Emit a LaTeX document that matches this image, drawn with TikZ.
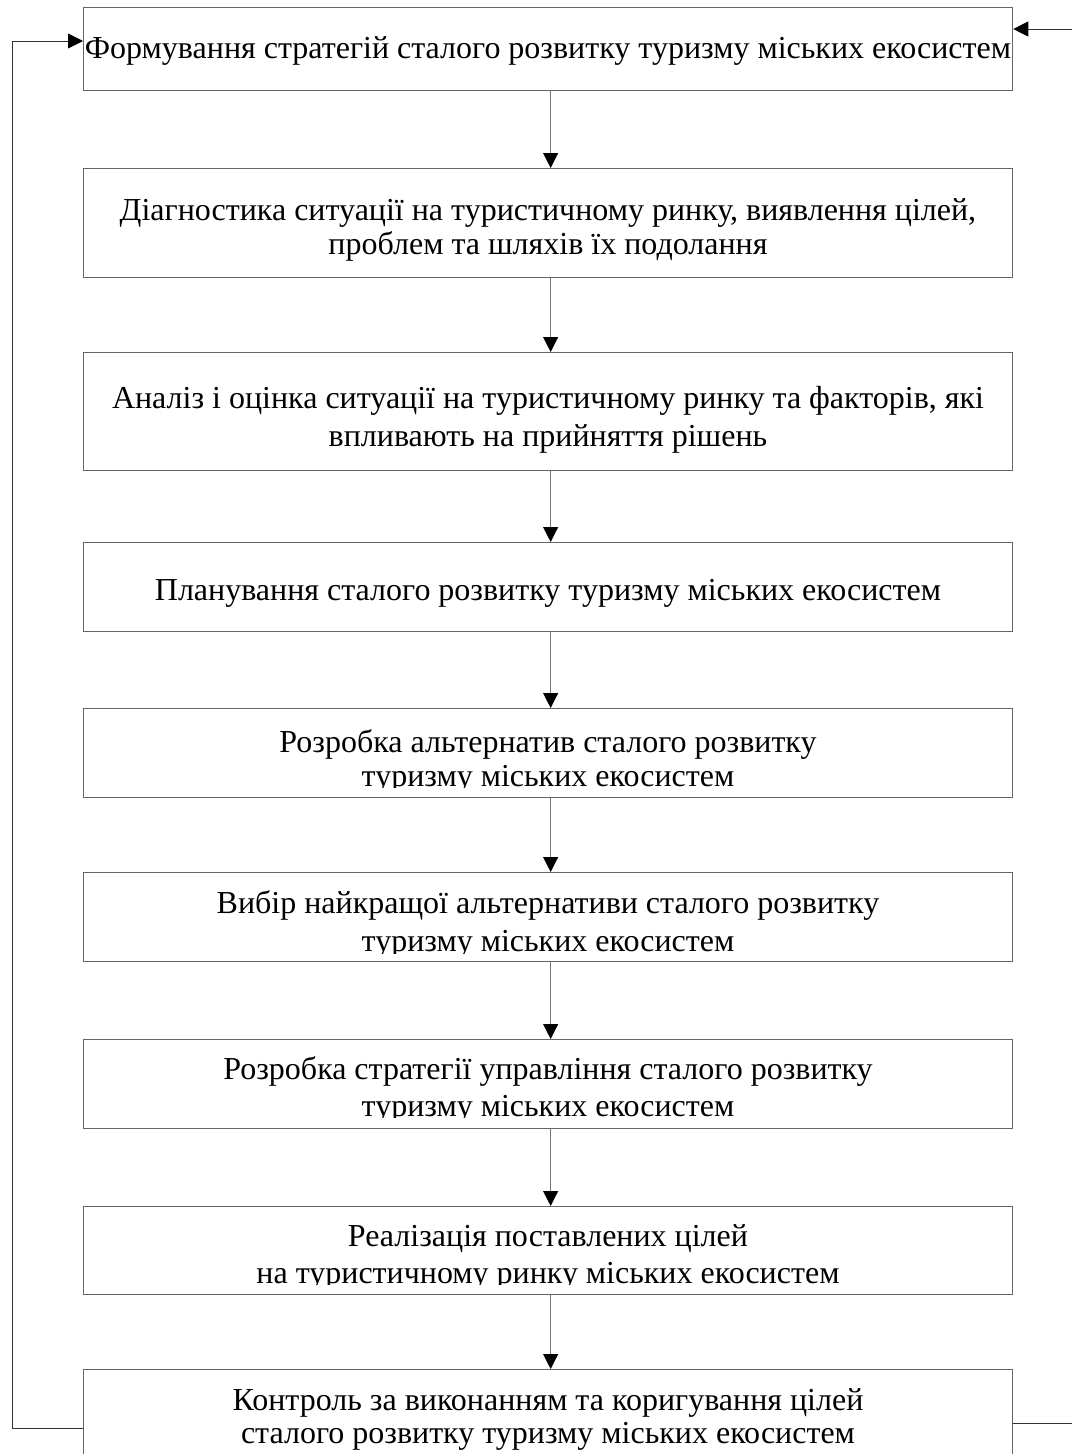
\documentclass[tikz,border=0pt]{standalone}
\usepackage{fontspec}
\setmainfont{Liberation Serif}
\usetikzlibrary{arrows.meta}
\begin{document}
\begin{tikzpicture}[x=1pt,y=-1pt,
  box/.style={draw=black!60, line width=1.3pt, minimum width=929pt, inner sep=0pt, anchor=north west, rectangle},
  txt/.style={font=\fontsize{32}{36}\selectfont, anchor=base, inner sep=0pt},
  flow/.style={draw=black!55, line width=0.9pt, -{Triangle[width=15pt,length=15pt,color=black]}},
  fb/.style={draw=black!80, line width=0.9pt},
  fbarrow/.style={draw=black!80, line width=0.9pt, -{Triangle[width=15pt,length=15pt,color=black]}}]
\useasboundingbox (0,0) rectangle (1072,1454);
\clip (0,0) rectangle (1072,1454);

% boxes
\node[box, minimum height=83pt]  (b1) at (83,7) {};
\node[box, minimum height=109pt] (b2) at (83,168) {};
\node[box, minimum height=118pt] (b3) at (83,352) {};
\node[box, minimum height=89pt]  (b4) at (83,542) {};
\node[box, minimum height=89pt]  (b5) at (83,708) {};
\node[box, minimum height=89pt]  (b6) at (83,872) {};
\node[box, minimum height=89pt]  (b7) at (83,1039) {};
\node[box, minimum height=88pt]  (b8) at (83,1206) {};
\node[box, minimum height=131pt] (b9) at (83,1369) {};

% texts
\node[txt] (t1) at (548,58) {Формування стратегій сталого розвитку туризму міських екосистем};
\node[txt] (t2a) at (548,220) {Діагностика ситуації на туристичному ринку, виявлення цілей,};
\node[txt] (t2b) at (548,254) {проблем та шляхів їх подолання};
\node[txt] (t3a) at (548,408) {Аналіз і оцінка ситуації на туристичному ринку та факторів, які};
\node[txt] (t3b) at (548,446) {впливають на прийняття рішень};
\node[txt] (t4) at (548,600) {Планування сталого розвитку туризму міських екосистем};
\begin{scope}
  \clip (83,708) rectangle (1012,787);
  \node[txt] (t5a) at (548,752) {Розробка альтернатив сталого розвитку};
  \node[txt] (t5b) at (548,786) {туризму міських екосистем};
\end{scope}
\begin{scope}
  \clip (83,872) rectangle (1012,953);
  \node[txt] (t6a) at (548,913) {Вибір найкращої альтернативи сталого розвитку};
  \node[txt] (t6b) at (548,951) {туризму міських екосистем};
\end{scope}
\begin{scope}
  \clip (83,1039) rectangle (1012,1117);
  \node[txt] (t7a) at (548,1079) {Розробка стратегії управління сталого розвитку};
  \node[txt] (t7b) at (548,1116) {туризму міських екосистем};
\end{scope}
\begin{scope}
  \clip (83,1206) rectangle (1012,1284);
  \node[txt] (t8a) at (548,1246) {Реалізація поставлених цілей};
  \node[txt] (t8b) at (548,1283) {на туристичному ринку міських екосистем};
\end{scope}
\node[txt] (t9a) at (548,1410) {Контроль за виконанням та коригування цілей};
\node[txt] (t9b) at (548,1443) {сталого розвитку туризму міських екосистем};

% flow arrows
\foreach \a/\b in {b1/b2,b2/b3,b3/b4,b4/b5,b5/b6,b6/b7,b7/b8,b8/b9}
  \draw[flow] ([xshift=2.5pt]\a.south) -- ([xshift=2.5pt]\b.north);

% feedback loops
\coordinate (lc) at (12,1428);
\coordinate (rin) at (1072,29);
\coordinate (rout) at (1072,1423);
\draw[fbarrow] (b9.west |- lc) -- (lc) |- (b1.west |- 0,41);
\draw[fbarrow] (rin) -- (b1.east |- rin);
\draw[fb] (b9.east |- rout) -- (rout);
\end{tikzpicture}
\end{document}
